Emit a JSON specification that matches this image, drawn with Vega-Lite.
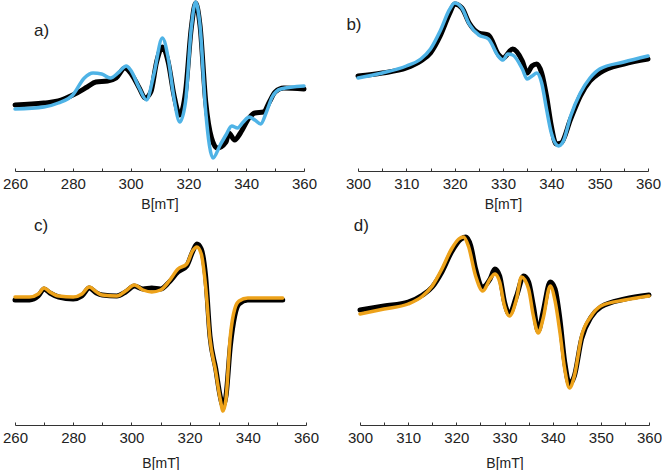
{
  "$schema": "https://vega.github.io/schema/vega-lite/v6.json",
  "background": "white",
  "padding": {"left": 2, "top": 0, "right": 0, "bottom": 0},
  "config": {
    "view": {"stroke": null},
    "axis": {
      "domainColor": "#333333", "domainWidth": 1, "tickColor": "#333333", "tickSize": -3,
      "labelFont": "Liberation Sans", "labelFontSize": 15, "labelColor": "#222222", "labelPadding": 8, "labelFlush": false,
      "titleFont": "Liberation Sans", "titleFontSize": 14, "titleFontWeight": "normal", "titleColor": "#222222", "titlePadding": 6,
      "grid": false, "labelOverlap": false
    },
    "line": {"strokeJoin": "round", "strokeCap": "round", "interpolate": "monotone"}
  },
  "datasets": {
    "a": [
      {"x":260,"y":66,"s":"exp"},{"x":270,"y":68,"s":"exp"},{"x":275,"y":70,"s":"exp"},{"x":280,"y":76,"s":"exp"},{"x":285,"y":84,"s":"exp"},{"x":288,"y":89,"s":"exp"},{"x":292,"y":90,"s":"exp"},{"x":295,"y":93,"s":"exp"},{"x":298,"y":103,"s":"exp"},{"x":300,"y":98,"s":"exp"},{"x":303,"y":83,"s":"exp"},{"x":305,"y":73,"s":"exp"},{"x":307,"y":79,"s":"exp"},{"x":309,"y":109,"s":"exp"},{"x":311,"y":124,"s":"exp"},{"x":313,"y":109,"s":"exp"},{"x":315,"y":76,"s":"exp"},{"x":317,"y":56,"s":"exp"},{"x":319,"y":79,"s":"exp"},{"x":321,"y":143,"s":"exp"},{"x":322.5,"y":168,"s":"exp"},{"x":324,"y":146,"s":"exp"},{"x":326,"y":69,"s":"exp"},{"x":328,"y":33,"s":"exp"},{"x":330,"y":23,"s":"exp"},{"x":333,"y":29,"s":"exp"},{"x":334,"y":38,"s":"exp"},{"x":336,"y":31,"s":"exp"},{"x":338,"y":38,"s":"exp"},{"x":341,"y":53,"s":"exp"},{"x":343,"y":58,"s":"exp"},{"x":346,"y":59,"s":"exp"},{"x":348,"y":69,"s":"exp"},{"x":350,"y":79,"s":"exp"},{"x":353,"y":83,"s":"exp"},{"x":360,"y":82,"s":"exp"},
      {"x":260,"y":62,"s":"sim"},{"x":270,"y":64,"s":"sim"},{"x":275,"y":68,"s":"sim"},{"x":280,"y":76,"s":"sim"},{"x":284,"y":93,"s":"sim"},{"x":287,"y":98,"s":"sim"},{"x":290,"y":97,"s":"sim"},{"x":293,"y":93,"s":"sim"},{"x":296,"y":99,"s":"sim"},{"x":298.5,"y":105,"s":"sim"},{"x":300,"y":101,"s":"sim"},{"x":303,"y":83,"s":"sim"},{"x":305.5,"y":71,"s":"sim"},{"x":308,"y":96,"s":"sim"},{"x":311,"y":133,"s":"sim"},{"x":313,"y":113,"s":"sim"},{"x":315,"y":73,"s":"sim"},{"x":317,"y":49,"s":"sim"},{"x":319,"y":69,"s":"sim"},{"x":321,"y":143,"s":"sim"},{"x":322.5,"y":169,"s":"sim"},{"x":324,"y":146,"s":"sim"},{"x":326,"y":59,"s":"sim"},{"x":328.5,"y":13,"s":"sim"},{"x":331,"y":26,"s":"sim"},{"x":333,"y":36,"s":"sim"},{"x":335,"y":45,"s":"sim"},{"x":337,"y":43,"s":"sim"},{"x":339,"y":49,"s":"sim"},{"x":341,"y":54,"s":"sim"},{"x":343,"y":51,"s":"sim"},{"x":345,"y":47,"s":"sim"},{"x":347,"y":59,"s":"sim"},{"x":349,"y":74,"s":"sim"},{"x":352,"y":82,"s":"sim"},{"x":360,"y":85,"s":"sim"}
    ],
    "b": [
      {"x":300,"y":95,"s":"exp"},{"x":305,"y":98,"s":"exp"},{"x":310,"y":103,"s":"exp"},{"x":313,"y":110,"s":"exp"},{"x":315,"y":118,"s":"exp"},{"x":317,"y":135,"s":"exp"},{"x":319,"y":158,"s":"exp"},{"x":320,"y":167,"s":"exp"},{"x":321.5,"y":163,"s":"exp"},{"x":323,"y":148,"s":"exp"},{"x":325,"y":138,"s":"exp"},{"x":327,"y":136,"s":"exp"},{"x":329,"y":117,"s":"exp"},{"x":330,"y":113,"s":"exp"},{"x":332,"y":122,"s":"exp"},{"x":334,"y":110,"s":"exp"},{"x":335,"y":98,"s":"exp"},{"x":336,"y":105,"s":"exp"},{"x":337,"y":107,"s":"exp"},{"x":338,"y":98,"s":"exp"},{"x":339,"y":75,"s":"exp"},{"x":340,"y":45,"s":"exp"},{"x":341,"y":27,"s":"exp"},{"x":342,"y":28,"s":"exp"},{"x":344,"y":52,"s":"exp"},{"x":346,"y":75,"s":"exp"},{"x":348,"y":90,"s":"exp"},{"x":350,"y":98,"s":"exp"},{"x":355,"y":107,"s":"exp"},{"x":360,"y":112,"s":"exp"},
      {"x":300,"y":93,"s":"sim"},{"x":305,"y":98,"s":"sim"},{"x":310,"y":105,"s":"sim"},{"x":313,"y":112,"s":"sim"},{"x":315,"y":122,"s":"sim"},{"x":317,"y":140,"s":"sim"},{"x":319,"y":162,"s":"sim"},{"x":320,"y":168,"s":"sim"},{"x":321.5,"y":163,"s":"sim"},{"x":323,"y":147,"s":"sim"},{"x":325,"y":136,"s":"sim"},{"x":327,"y":132,"s":"sim"},{"x":329,"y":115,"s":"sim"},{"x":330,"y":111,"s":"sim"},{"x":331,"y":117,"s":"sim"},{"x":332,"y":116,"s":"sim"},{"x":334,"y":102,"s":"sim"},{"x":335,"y":92,"s":"sim"},{"x":336,"y":95,"s":"sim"},{"x":337,"y":98,"s":"sim"},{"x":338,"y":88,"s":"sim"},{"x":339,"y":62,"s":"sim"},{"x":340,"y":38,"s":"sim"},{"x":341.5,"y":25,"s":"sim"},{"x":342.5,"y":30,"s":"sim"},{"x":344,"y":55,"s":"sim"},{"x":346,"y":78,"s":"sim"},{"x":348,"y":93,"s":"sim"},{"x":350,"y":102,"s":"sim"},{"x":355,"y":109,"s":"sim"},{"x":360,"y":115,"s":"sim"}
    ],
    "c": [
      {"x":260,"y":125,"s":"exp"},{"x":265,"y":125,"s":"exp"},{"x":268,"y":129,"s":"exp"},{"x":270,"y":136,"s":"exp"},{"x":272,"y":132,"s":"exp"},{"x":275,"y":128,"s":"exp"},{"x":280,"y":126,"s":"exp"},{"x":283,"y":129,"s":"exp"},{"x":285.5,"y":137,"s":"exp"},{"x":288,"y":132,"s":"exp"},{"x":290,"y":130,"s":"exp"},{"x":295,"y":129,"s":"exp"},{"x":298,"y":133,"s":"exp"},{"x":301,"y":139,"s":"exp"},{"x":304,"y":136,"s":"exp"},{"x":307,"y":137,"s":"exp"},{"x":310,"y":136,"s":"exp"},{"x":313,"y":143,"s":"exp"},{"x":316,"y":153,"s":"exp"},{"x":319,"y":159,"s":"exp"},{"x":321,"y":173,"s":"exp"},{"x":322.5,"y":181,"s":"exp"},{"x":324,"y":176,"s":"exp"},{"x":325.5,"y":149,"s":"exp"},{"x":327,"y":89,"s":"exp"},{"x":329,"y":56,"s":"exp"},{"x":330.5,"y":29,"s":"exp"},{"x":331.5,"y":19,"s":"exp"},{"x":332.5,"y":29,"s":"exp"},{"x":334,"y":79,"s":"exp"},{"x":335.5,"y":109,"s":"exp"},{"x":337,"y":121,"s":"exp"},{"x":340,"y":125,"s":"exp"},{"x":345,"y":125,"s":"exp"},{"x":352,"y":125,"s":"exp"},
      {"x":260,"y":128,"s":"sim"},{"x":265,"y":128,"s":"sim"},{"x":268,"y":131,"s":"sim"},{"x":270,"y":137,"s":"sim"},{"x":272,"y":133,"s":"sim"},{"x":275,"y":129,"s":"sim"},{"x":280,"y":128,"s":"sim"},{"x":283,"y":131,"s":"sim"},{"x":285.5,"y":138,"s":"sim"},{"x":288,"y":133,"s":"sim"},{"x":290,"y":130,"s":"sim"},{"x":295,"y":129,"s":"sim"},{"x":298,"y":134,"s":"sim"},{"x":301,"y":140,"s":"sim"},{"x":304,"y":135,"s":"sim"},{"x":307,"y":133,"s":"sim"},{"x":310,"y":135,"s":"sim"},{"x":313,"y":144,"s":"sim"},{"x":316,"y":156,"s":"sim"},{"x":319,"y":161,"s":"sim"},{"x":321,"y":174,"s":"sim"},{"x":322.5,"y":178,"s":"sim"},{"x":324,"y":171,"s":"sim"},{"x":325.5,"y":139,"s":"sim"},{"x":327,"y":86,"s":"sim"},{"x":329,"y":53,"s":"sim"},{"x":330.5,"y":26,"s":"sim"},{"x":331.5,"y":14,"s":"sim"},{"x":332.5,"y":26,"s":"sim"},{"x":334,"y":89,"s":"sim"},{"x":335.5,"y":116,"s":"sim"},{"x":337,"y":124,"s":"sim"},{"x":340,"y":127,"s":"sim"},{"x":345,"y":127,"s":"sim"},{"x":352,"y":127,"s":"sim"}
    ],
    "d": [
      {"x":300,"y":115,"s":"exp"},{"x":305,"y":119,"s":"exp"},{"x":310,"y":123,"s":"exp"},{"x":313,"y":130,"s":"exp"},{"x":315,"y":138,"s":"exp"},{"x":317,"y":153,"s":"exp"},{"x":319,"y":173,"s":"exp"},{"x":321,"y":186,"s":"exp"},{"x":322,"y":188,"s":"exp"},{"x":323,"y":179,"s":"exp"},{"x":324,"y":156,"s":"exp"},{"x":325.5,"y":138,"s":"exp"},{"x":327,"y":146,"s":"exp"},{"x":328,"y":156,"s":"exp"},{"x":329,"y":149,"s":"exp"},{"x":330,"y":123,"s":"exp"},{"x":331,"y":111,"s":"exp"},{"x":332.5,"y":129,"s":"exp"},{"x":334,"y":149,"s":"exp"},{"x":335,"y":143,"s":"exp"},{"x":336,"y":119,"s":"exp"},{"x":337,"y":94,"s":"exp"},{"x":338,"y":113,"s":"exp"},{"x":339.5,"y":143,"s":"exp"},{"x":340.5,"y":136,"s":"exp"},{"x":341.5,"y":106,"s":"exp"},{"x":342.5,"y":63,"s":"exp"},{"x":343.5,"y":41,"s":"exp"},{"x":344.5,"y":49,"s":"exp"},{"x":346,"y":86,"s":"exp"},{"x":348,"y":108,"s":"exp"},{"x":350,"y":118,"s":"exp"},{"x":355,"y":126,"s":"exp"},{"x":360,"y":130,"s":"exp"},
      {"x":300,"y":111,"s":"sim"},{"x":305,"y":116,"s":"sim"},{"x":310,"y":121,"s":"sim"},{"x":313,"y":129,"s":"sim"},{"x":315,"y":139,"s":"sim"},{"x":317,"y":156,"s":"sim"},{"x":319,"y":176,"s":"sim"},{"x":320.5,"y":186,"s":"sim"},{"x":321.5,"y":188,"s":"sim"},{"x":322.5,"y":179,"s":"sim"},{"x":324,"y":149,"s":"sim"},{"x":325.5,"y":134,"s":"sim"},{"x":327,"y":146,"s":"sim"},{"x":328,"y":151,"s":"sim"},{"x":329,"y":143,"s":"sim"},{"x":330,"y":119,"s":"sim"},{"x":331,"y":109,"s":"sim"},{"x":332.5,"y":126,"s":"sim"},{"x":333.5,"y":148,"s":"sim"},{"x":335,"y":136,"s":"sim"},{"x":336,"y":109,"s":"sim"},{"x":337,"y":92,"s":"sim"},{"x":338,"y":106,"s":"sim"},{"x":339.5,"y":139,"s":"sim"},{"x":340.5,"y":124,"s":"sim"},{"x":341.5,"y":93,"s":"sim"},{"x":342.5,"y":56,"s":"sim"},{"x":343.5,"y":37,"s":"sim"},{"x":344.5,"y":49,"s":"sim"},{"x":346,"y":89,"s":"sim"},{"x":348,"y":109,"s":"sim"},{"x":350,"y":119,"s":"sim"},{"x":355,"y":125,"s":"sim"},{"x":360,"y":129,"s":"sim"}
    ]
  },
  "spacing": 4,
  "vconcat": [
    {
      "spacing": 28,
      "hconcat": [
        {
          "width": 289, "height": 171,
          "data": {"name": "a"},
          "encoding": {
            "x": {"field": "x", "type": "quantitative", "title": "B[mT]", "scale": {"domain": [260, 360]},
                  "axis": {"values": [260,270,280,290,300,310,320,330,340,350,360], "labelExpr": "datum.value % 20 == 0 ? datum.label : ''"}},
            "y": {"field": "y", "type": "quantitative", "scale": {"domain": [0, 171]}, "axis": null}
          },
          "layer": [
            {"transform": [{"filter": "datum.s == 'exp'"}], "mark": {"type": "line", "color": "#000000", "strokeWidth": 5}},
            {"transform": [{"filter": "datum.s == 'sim'"}], "mark": {"type": "line", "color": "#4fb3e6", "strokeWidth": 3.5}},
            {"transform": [{"filter": "datum.s == 'exp' && datum.x == 260"}], "mark": {"type": "text", "text": "a)", "font": "Liberation Sans", "fontSize": 17, "align": "left", "baseline": "middle", "color": "#222222"}, "encoding": {"x": {"datum": 266.6}, "y": {"datum": 140}}}
          ]
        },
        {
          "width": 290, "height": 171,
          "data": {"name": "b"},
          "encoding": {
            "x": {"field": "x", "type": "quantitative", "title": "B[mT]", "scale": {"domain": [300, 360]},
                  "axis": {"values": [300,305,310,315,320,325,330,335,340,345,350,355,360], "labelExpr": "datum.value % 10 == 0 ? datum.label : ''"}},
            "y": {"field": "y", "type": "quantitative", "scale": {"domain": [0, 171]}, "axis": null}
          },
          "layer": [
            {"transform": [{"filter": "datum.s == 'exp'"}], "mark": {"type": "line", "color": "#000000", "strokeWidth": 5}},
            {"transform": [{"filter": "datum.s == 'sim'"}], "mark": {"type": "line", "color": "#4fb3e6", "strokeWidth": 3.5}},
            {"transform": [{"filter": "datum.s == 'exp' && datum.x == 300"}], "mark": {"type": "text", "text": "b)", "font": "Liberation Sans", "fontSize": 17, "align": "left", "baseline": "middle", "color": "#222222"}, "encoding": {"x": {"datum": 297.6}, "y": {"datum": 146}}}
          ]
        }
      ]
    },
    {
      "spacing": 28,
      "hconcat": [
        {
          "width": 291, "height": 210,
          "data": {"name": "c"},
          "encoding": {
            "x": {"field": "x", "type": "quantitative", "title": "B[mT]", "scale": {"domain": [260, 360]},
                  "axis": {"values": [260,270,280,290,300,310,320,330,340,350,360], "labelExpr": "datum.value % 20 == 0 ? datum.label : ''", "titlePadding": 11}},
            "y": {"field": "y", "type": "quantitative", "scale": {"domain": [0, 210]}, "axis": null}
          },
          "layer": [
            {"transform": [{"filter": "datum.s == 'exp'"}], "mark": {"type": "line", "color": "#000000", "strokeWidth": 5}},
            {"transform": [{"filter": "datum.s == 'sim'"}], "mark": {"type": "line", "color": "#eda21a", "strokeWidth": 3.5}},
            {"transform": [{"filter": "datum.s == 'exp' && datum.x == 260"}], "mark": {"type": "text", "text": "c)", "font": "Liberation Sans", "fontSize": 17, "align": "left", "baseline": "middle", "color": "#222222"}, "encoding": {"x": {"datum": 266.5}, "y": {"datum": 199}}}
          ]
        },
        {
          "width": 289, "height": 210,
          "data": {"name": "d"},
          "encoding": {
            "x": {"field": "x", "type": "quantitative", "title": "B[mT]", "scale": {"domain": [300, 360]},
                  "axis": {"values": [300,305,310,315,320,325,330,335,340,345,350,355,360], "labelExpr": "datum.value % 10 == 0 ? datum.label : ''", "titlePadding": 11}},
            "y": {"field": "y", "type": "quantitative", "scale": {"domain": [0, 210]}, "axis": null}
          },
          "layer": [
            {"transform": [{"filter": "datum.s == 'exp'"}], "mark": {"type": "line", "color": "#000000", "strokeWidth": 5}},
            {"transform": [{"filter": "datum.s == 'sim'"}], "mark": {"type": "line", "color": "#eda21a", "strokeWidth": 3.5}},
            {"transform": [{"filter": "datum.s == 'exp' && datum.x == 300"}], "mark": {"type": "text", "text": "d)", "font": "Liberation Sans", "fontSize": 17, "align": "left", "baseline": "middle", "color": "#222222"}, "encoding": {"x": {"datum": 298.7}, "y": {"datum": 199}}}
          ]
        }
      ]
    }
  ]
}
